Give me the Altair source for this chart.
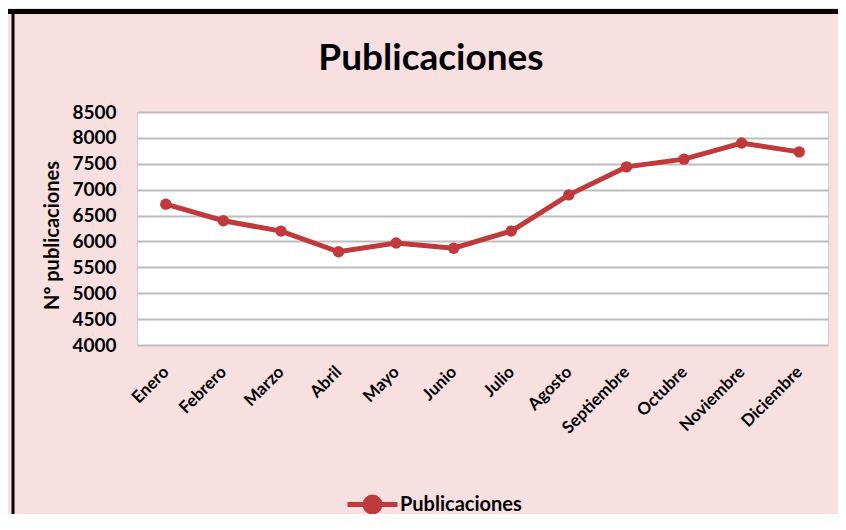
import altair as alt
import pandas as pd

titulo = ["Publicaciones"]
meses = ["Enero", "Febrero", "Marzo", "Abril", "Mayo", "Junio", "Julio",
         "Agosto", "Septiembre", "Octubre", "Noviembre", "Diciembre"]
publicaciones = [6720, 6400, 6200, 5800, 5970, 5870, 6200, 6900, 7440, 7590, 7900, 7730]
serie = ["Publicaciones"] * len(meses)
y_ticks = [4000, 4500, 5000, 5500, 6000, 6500, 7000, 7500, 8000, 8500]

df = pd.DataFrame({"mes": meses, "valor": publicaciones, "serie": serie})
df_title = pd.DataFrame({"t": titulo})

RED = "#c0393d"
FONT = "Lato"

x_enc = alt.X("mes:N", sort=meses, title=None,
              scale=alt.Scale(type="point", padding=0.5),
              axis=alt.Axis(labelAngle=-45, labelAlign="right", labelBaseline="middle",
                            labelFont=FONT, labelFontWeight="bold", labelFontSize=17,
                            labelColor="black", labelPadding=24, ticks=False,
                            domain=False, grid=False, labelOverlap=False))
y_enc = alt.Y("valor:Q", title="Nº publicaciones",
              scale=alt.Scale(domain=[4000, 8500], nice=False, zero=False),
              axis=alt.Axis(values=y_ticks, format="d", labelFont=FONT,
                            labelFontWeight="bold", labelFontSize=19, labelColor="black",
                            labelPadding=21, ticks=False, domain=False,
                            grid=True, gridColor="#bdbdbd", gridWidth=2,
                            titleFont=FONT, titleFontWeight="bold", titleFontSize=20,
                            titleColor="black", titlePadding=9, titleY=123))

sym_path = "M-1,0H1M-0.3,0A0.3,0.3 0 1,1 0.3,0A0.3,0.3 0 1,1 -0.3,0Z"

line = alt.Chart(df).mark_line(strokeWidth=5).encode(
    x=x_enc, y=y_enc,
    color=alt.Color("serie:N", scale=alt.Scale(range=[RED]),
                    legend=alt.Legend(title=None, orient="none", legendX=208, legendY=365,
                                      symbolType=sym_path, symbolSize=2500,
                                      symbolStrokeWidth=5, symbolFillColor=RED,
                                      symbolStrokeColor=RED, symbolOpacity=1,
                                      labelFont=FONT, labelFontWeight="bold",
                                      labelFontSize=20, labelColor="black",
                                      labelOffset=0, padding=0))
)
points = alt.Chart(df).mark_point(filled=True, size=130, opacity=1).encode(
    x=x_enc, y=y_enc,
    color=alt.Color("serie:N", scale=alt.Scale(range=[RED]), legend=None)
)

title_text = alt.Chart(df_title).mark_text(
    font=FONT, fontSize=37, fontWeight="bold", color="black",
    align="center", baseline="alphabetic"
).encode(text="t:N", x=alt.value(294), y=alt.value(-42))

border_top = alt.Chart(df_title).mark_rect(color="black").encode(
    x=alt.value(-129), x2=alt.value(701), y=alt.value(-103), y2=alt.value(-98))
border_left = alt.Chart(df_title).mark_rule(
    color="black", strokeWidth=3, strokeCap="butt"
).encode(x=alt.value(-124), y=alt.value(-103), y2=alt.value(402))

chart = alt.layer(border_top, border_left, title_text, line, points).properties(
    width=691, height=233,
    autosize=alt.AutoSizeParams(type="none"),
    padding={"left": 129, "top": 104, "right": 10, "bottom": 169},
    background="#f8dfe0",
).configure_view(fill="white", stroke="#d6cccc", strokeWidth=1)

chart.save("out.html", embed_options={"renderer": "svg", "actions": False})
